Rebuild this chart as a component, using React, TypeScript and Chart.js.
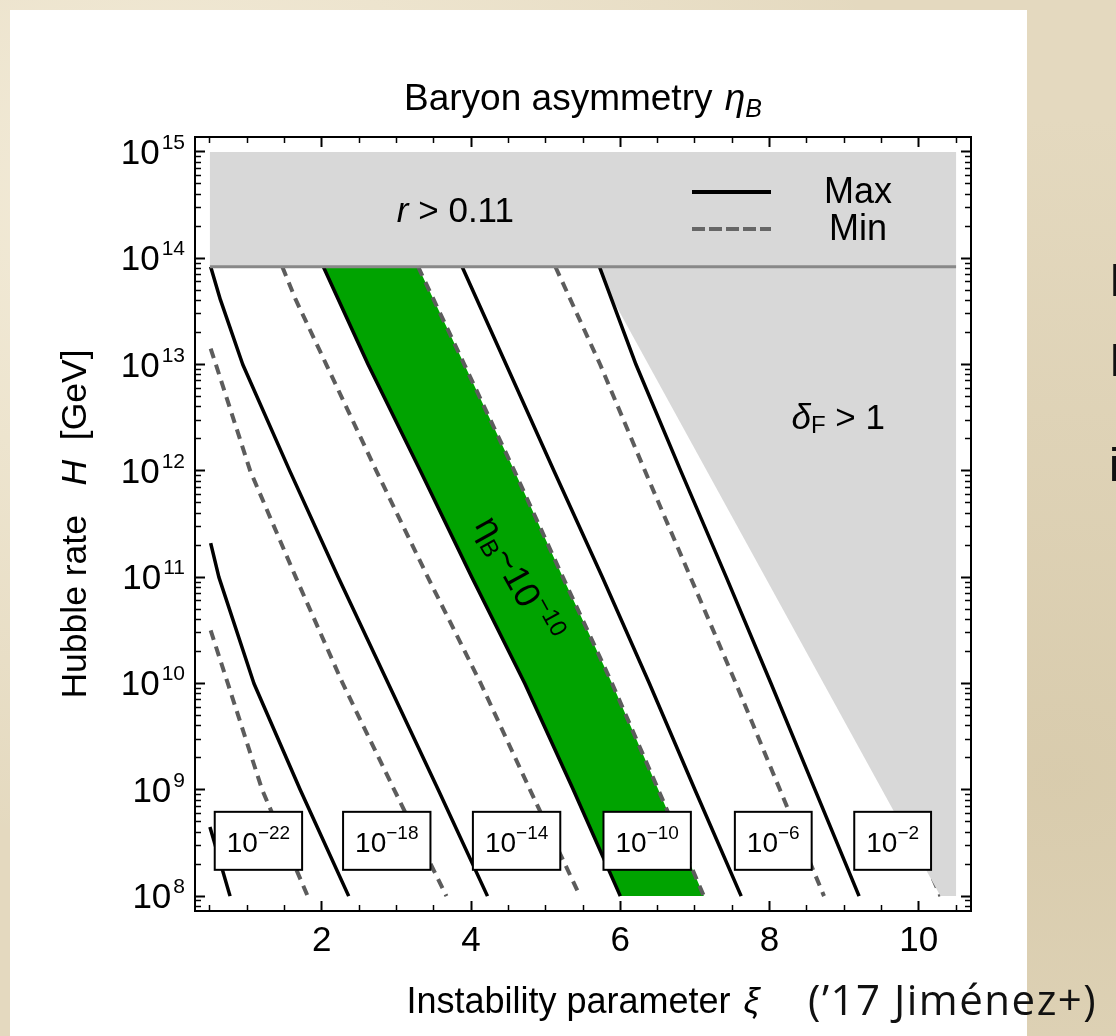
import React, { useEffect, useRef } from "react";
import { Chart, registerables } from "chart.js";

Chart.register(...registerables);

const FONT = "'Liberation Sans', Arial, Helvetica, sans-serif";

// ---------------- data : (xi, log10 of H / GeV) ----------------
const xiMajorTicks = [2, 4, 6, 8, 10];
const xiMinorTicks = [0.5, 1, 1.5, 2.5, 3, 3.5, 4.5, 5, 5.5, 6.5, 7, 7.5, 8.5, 9, 9.5, 10.5];
const logHMajorTicks = [8, 9, 10, 11, 12, 13, 14, 15];

const xiRange = [0.3, 10.7];
const logHRange = [7.86, 15.14];

const tensorBoundLogH = 13.92; // r > 0.11 limit
const bandXi = [0.5, 10.5];
const bandTopLogH = 15;
const bandBottomLogH = 8;

const etaExponents = ["\u221222", "\u221218", "\u221214", "\u221210", "\u22126", "\u22122"];
const etaLabelXi = [1.15, 2.87, 4.61, 6.36, 8.05, 9.65];
const etaLabelLogH = 8.52;

// Max (solid) curves
const maxEta22 = [[0.5, 8.65], [0.77, 8.0]];
const maxEta18 = [[0.51, 11.32], [0.62, 11.0], [1.09, 10.0], [1.71, 9.0], [2.36, 8.0]];
const maxEta14 = [[0.51, 13.92], [0.64, 13.61], [0.94, 13.0], [1.57, 12.0], [2.22, 11.0], [2.89, 10.0], [3.56, 9.0], [4.22, 8.0]];
const maxEta10 = [[2.02, 13.92], [2.62, 13.0], [3.32, 12.0], [4.01, 11.0], [4.72, 10.0], [5.37, 9.0], [6.0, 8.0]];
const maxEta6 = [[3.88, 13.92], [4.47, 13.0], [5.11, 12.0], [5.76, 11.0], [6.39, 10.0], [7.0, 9.0], [7.62, 8.0]];
const maxEta2 = [[5.72, 13.92], [6.21, 13.0], [6.81, 12.0], [7.42, 11.0], [8.02, 10.0], [8.61, 9.0], [9.2, 8.0]];

// Min (dashed) curves
const minEta22 = [[0.51, 10.5], [0.74, 10.0], [1.2, 9.0], [1.81, 8.0]];
const minEta18 = [[0.51, 13.15], [0.58, 13.0], [1.04, 12.0], [1.65, 11.0], [2.28, 10.0], [2.97, 9.0], [3.67, 8.0]];
const minEta14 = [[1.47, 13.92], [1.65, 13.61], [2.06, 13.0], [2.73, 12.0], [3.42, 11.0], [4.13, 10.0], [4.79, 9.0], [5.46, 8.0]];
const minEta10 = [[3.29, 13.92], [3.91, 13.0], [4.58, 12.0], [5.23, 11.0], [5.89, 10.0], [6.51, 9.0], [7.12, 8.0]];
const minEta6 = [[5.13, 13.92], [5.73, 13.0], [6.33, 12.0], [6.94, 11.0], [7.55, 10.0], [8.14, 9.0], [8.73, 8.0]];
const minEta2 = [[6.76, 13.92], [7.32, 13.0], [7.91, 12.0], [8.5, 11.0], [9.09, 10.0], [9.68, 9.0], [10.29, 8.0]];

// delta_F > 1 boundary
const deltaBoundary = [[5.73, 13.92], [5.9, 13.61], [8.85, 9.84], [10.29, 8.0]];

// ---------------- helpers ----------------
const pts = (arr: number[][]) => arr.map(([xi, lh]) => ({ x: xi, y: Math.pow(10, lh) }));

type Seg = { t: string; size: number; italic?: boolean; dy?: number; gap?: number };

function segFont(s: Seg) {
  return `${s.italic ? "italic " : ""}${s.size}px ${FONT}`;
}
function segsWidth(ctx: CanvasRenderingContext2D, segs: Seg[]) {
  let w = 0;
  for (const s of segs) {
    ctx.font = segFont(s);
    w += ctx.measureText(s.t).width + (s.gap || 0);
  }
  return w;
}
function drawSegs(ctx: CanvasRenderingContext2D, segs: Seg[], x: number, y: number, align: "left" | "center" | "right") {
  const total = segsWidth(ctx, segs);
  let cx = align === "left" ? x : align === "center" ? x - total / 2 : x - total;
  ctx.textAlign = "left";
  ctx.textBaseline = "alphabetic";
  for (const s of segs) {
    ctx.font = segFont(s);
    cx += s.gap || 0;
    ctx.fillText(s.t, cx, y + (s.dy || 0));
    cx += ctx.measureText(s.t).width;
  }
  return total;
}

const textPlugin = {
  id: "richText",
  afterDatasetsDraw(chart: any) {
    const ctx: CanvasRenderingContext2D = chart.ctx;
    const xs = chart.scales.x;
    const ys = chart.scales.y;
    const px = (v: number) => xs.getPixelForValue(v);
    const py = (lh: number) => ys.getPixelForValue(Math.pow(10, lh));
    const area = chart.chartArea;
    ctx.save();
    ctx.fillStyle = "#000";

    // r > 0.11
    drawSegs(ctx, [{ t: "r", size: 35, italic: true }, { t: " > 0.11", size: 35 }], px(3.79), py(14.34), "center");

    // delta_F > 1
    drawSegs(
      ctx,
      [{ t: "\u03b4", size: 35, italic: true }, { t: "F", size: 24, dy: 4 }, { t: " > 1", size: 35 }],
      px(8.92),
      py(12.39),
      "center"
    );

    // legend
    const lx0 = area.right - 279, lx1 = area.right - 200;
    ctx.lineWidth = 4;
    ctx.strokeStyle = "#000";
    ctx.setLineDash([]);
    ctx.beginPath(); ctx.moveTo(lx0, area.top + 55); ctx.lineTo(lx1, area.top + 55); ctx.stroke();
    ctx.strokeStyle = "#666";
    ctx.setLineDash([13, 4]);
    ctx.beginPath(); ctx.moveTo(lx0, area.top + 92); ctx.lineTo(lx1, area.top + 92); ctx.stroke();
    ctx.setLineDash([]);
    drawSegs(ctx, [{ t: "Max", size: 36 }], area.right - 113, area.top + 66, "center");
    drawSegs(ctx, [{ t: "Min", size: 36 }], area.right - 113, area.top + 103, "center");

    // rotated eta label
    ctx.save();
    ctx.translate(px(4.63), py(10.98));
    ctx.rotate((61 * Math.PI) / 180);
    drawSegs(
      ctx,
      [
        { t: "\u03b7", size: 36 },
        { t: "B", size: 24, dy: 6 },
        { t: "~10", size: 36 },
        { t: "\u221210", size: 24, dy: -15 },
      ],
      0,
      12,
      "center"
    );
    ctx.restore();

    // eta boxes
    etaExponents.forEach((e, i) => {
      const cx = px(etaLabelXi[i]);
      const cy = py(etaLabelLogH);
      const segs: Seg[] = [{ t: "10", size: 28 }, { t: e, size: 19, dy: -13 }];
      const w = segsWidth(ctx, segs);
      const bw = w + 24, bh = 58;
      ctx.fillStyle = "#fff";
      ctx.fillRect(cx - bw / 2, cy - bh / 2, bw, bh);
      ctx.strokeStyle = "#000";
      ctx.lineWidth = 2;
      ctx.strokeRect(cx - bw / 2, cy - bh / 2, bw, bh);
      ctx.fillStyle = "#000";
      drawSegs(ctx, segs, cx, cy + 11, "center");
    });
    ctx.restore();
  },
  afterDraw(chart: any) {
    const ctx: CanvasRenderingContext2D = chart.ctx;
    const ys = chart.scales.y;
    const area = chart.chartArea;
    ctx.save();
    ctx.fillStyle = "#000";
    // y tick labels 10^n
    for (const n of logHMajorTicks) {
      const y = ys.getPixelForValue(Math.pow(10, n));
      drawSegs(
        ctx,
        [{ t: "10", size: 35 }, { t: String(n), size: 21, dy: -15, gap: 2 }],
        area.left - 10,
        y + 12,
        "right"
      );
    }
    const cx = (area.left + area.right) / 2;
    // title
    drawSegs(
      ctx,
      [
        { t: "Baryon asymmetry ", size: 37 },
        { t: "\u03b7", size: 37, italic: true, gap: 2 },
        { t: "B", size: 25, italic: true, dy: 7 },
      ],
      cx,
      area.top - 27,
      "center"
    );
    // x title
    drawSegs(
      ctx,
      [{ t: "Instability parameter ", size: 36 }, { t: "\u03be", size: 36, italic: true, gap: 3 }],
      cx,
      1013,
      "center"
    );
    // y title
    ctx.save();
    ctx.translate(86, (area.top + area.bottom) / 2);
    ctx.rotate(-Math.PI / 2);
    drawSegs(
      ctx,
      [{ t: "Hubble rate   ", size: 35.5 }, { t: "H", size: 35.5, italic: true }, { t: "  [GeV]", size: 35.5 }],
      0,
      0,
      "center"
    );
    ctx.restore();
    ctx.restore();
  },
};

function minorLogTicks() {
  const out: number[] = [];
  for (let n = 7; n <= 15; n++) {
    for (let k = 2; k <= 9; k++) {
      const v = k * Math.pow(10, n);
      if (Math.log10(v) > logHRange[0] && Math.log10(v) < logHRange[1]) out.push(v);
    }
  }
  return out;
}

function makeScale(kind: "x" | "y", position: string, major: boolean, labelled: boolean, size: number) {
  const isX = kind === "x";
  const values = isX ? (major ? xiMajorTicks : xiMinorTicks) : major ? logHMajorTicks.map((n) => Math.pow(10, n)) : minorLogTicks();
  return {
    type: isX ? "linear" : "logarithmic",
    position,
    weight: major ? 1 : 0,
    min: isX ? xiRange[0] : Math.pow(10, logHRange[0]),
    max: isX ? xiRange[1] : Math.pow(10, logHRange[1]),
    afterBuildTicks: (s: any) => {
      s.ticks = values.map((v) => ({ value: v }));
    },
    afterFit: (s: any) => {
      if (isX) s.height = size;
      else s.width = size;
    },
    ticks: {
      display: labelled,
      autoSkip: false,
      maxRotation: 0,
      color: "#000",
      padding: 19,
      font: { family: FONT, size: 35 },
      callback: (v: any) => String(v),
    },
    grid: {
      display: true,
      drawOnChartArea: false,
      tickLength: major ? -10 : -6,
      tickWidth: major ? 2 : 1.5,
      tickColor: "#000",
    },
    border: { display: major, color: "#000", width: 2 },
  };
}

export default function App() {
  const ref = useRef<HTMLCanvasElement>(null);

  useEffect(() => {
    const solid = { borderColor: "#000", borderWidth: 3.5, fill: false, showLine: true, pointRadius: 0, order: 4 };
    const dashed = {
      borderColor: "#5c5c5c",
      borderWidth: 4,
      borderDash: [10, 7],
      fill: false,
      showLine: true,
      pointRadius: 0,
      order: 5,
    };
    const greenPoly = [...maxEta10, ...[...minEta10].reverse()];
    const deltaPoly = [...deltaBoundary, [bandXi[1], bandBottomLogH], [bandXi[1], tensorBoundLogH]];
    const bandPoly = [
      [bandXi[0], tensorBoundLogH],
      [bandXi[1], tensorBoundLogH],
      [bandXi[1], bandTopLogH],
      [bandXi[0], bandTopLogH],
    ];

    const datasets: any[] = [
      { data: pts(greenPoly), fill: "shape", backgroundColor: "#00a300", borderWidth: 0, showLine: true, pointRadius: 0, order: 10 },
      { ...dashed, data: pts(minEta2), order: 9 },
      { data: pts(deltaPoly), fill: "shape", backgroundColor: "#d8d8d8", borderWidth: 0, showLine: true, pointRadius: 0, order: 8 },
      { data: pts(bandPoly), fill: "shape", backgroundColor: "#d8d8d8", borderWidth: 0, showLine: true, pointRadius: 0, order: 7 },
      { ...dashed, data: pts(minEta22) },
      { ...dashed, data: pts(minEta18) },
      { ...dashed, data: pts(minEta14) },
      { ...dashed, data: pts(minEta10) },
      { ...dashed, data: pts(minEta6) },
      { ...solid, data: pts(maxEta22) },
      { ...solid, data: pts(maxEta18) },
      { ...solid, data: pts(maxEta14) },
      { ...solid, data: pts(maxEta10) },
      { ...solid, data: pts(maxEta6) },
      { ...solid, data: pts(maxEta2) },
      {
        data: pts([[bandXi[0], tensorBoundLogH], [bandXi[1], tensorBoundLogH]]),
        borderColor: "#888",
        borderWidth: 3,
        showLine: true,
        pointRadius: 0,
        fill: false,
        order: 3,
      },
    ];

    const chart = new Chart(ref.current as HTMLCanvasElement, {
      type: "scatter",
      data: { datasets },
      options: {
        animation: false,
        responsive: false,
        devicePixelRatio: 1,
        events: [],
        layout: { padding: { left: 0, top: 137, right: 145, bottom: 0 } },
        elements: { line: { tension: 0, borderCapStyle: "butt", borderJoinStyle: "round" }, point: { radius: 0 } },
        plugins: { legend: { display: false }, tooltip: { enabled: false }, title: { display: false } },
        scales: {
          x: makeScale("x", "bottom", true, true, 125),
          xMinor: makeScale("x", "bottom", false, false, 0),
          xTop: makeScale("x", "top", true, false, 0),
          xTopMinor: makeScale("x", "top", false, false, 0),
          y: makeScale("y", "left", true, false, 195),
          yMinor: makeScale("y", "left", false, false, 0),
          yRight: makeScale("y", "right", true, false, 0),
          yRightMinor: makeScale("y", "right", false, false, 0),
        } as any,
      },
      plugins: [textPlugin],
    } as any);
    return () => chart.destroy();
  }, []);

  const sideLetter = (top: number, t: string) => (
    <div
      style={{
        position: "absolute",
        left: 1109,
        top,
        fontFamily: FONT,
        fontSize: 46,
        lineHeight: "50px",
        color: "#111",
      }}
    >
      {t}
    </div>
  );

  return (
    <div
      style={{
        position: "fixed",
        left: 0,
        top: 0,
        width: 1116,
        height: 1036,
        overflow: "hidden",
        background:
          "radial-gradient(ellipse at 15% 20%, rgba(250,244,228,0.7), rgba(250,244,228,0) 55%), radial-gradient(ellipse at 95% 75%, rgba(205,190,155,0.5), rgba(205,190,155,0) 60%), #e4d9bf",
      }}
    >
      <div style={{ position: "absolute", left: 10, top: 10, width: 1017, height: 1026, background: "#fff" }} />
      <canvas
        ref={ref}
        width={1116}
        height={1036}
        style={{ position: "absolute", left: 0, top: 0, width: 1116, height: 1036 }}
      />
      <div
        style={{
          position: "absolute",
          left: 808,
          top: 974,
          fontFamily: "'Open Sans', 'Noto Sans', sans-serif",
          fontSize: 42,
          letterSpacing: 1.5,
          lineHeight: "50px",
          whiteSpace: "nowrap",
          color: "#111",
        }}
      >
        (’17 Jiménez+)
      </div>
      {sideLetter(255, "I")}
      {sideLetter(335, "I")}
      {sideLetter(440, "i")}
    </div>
  );
}
